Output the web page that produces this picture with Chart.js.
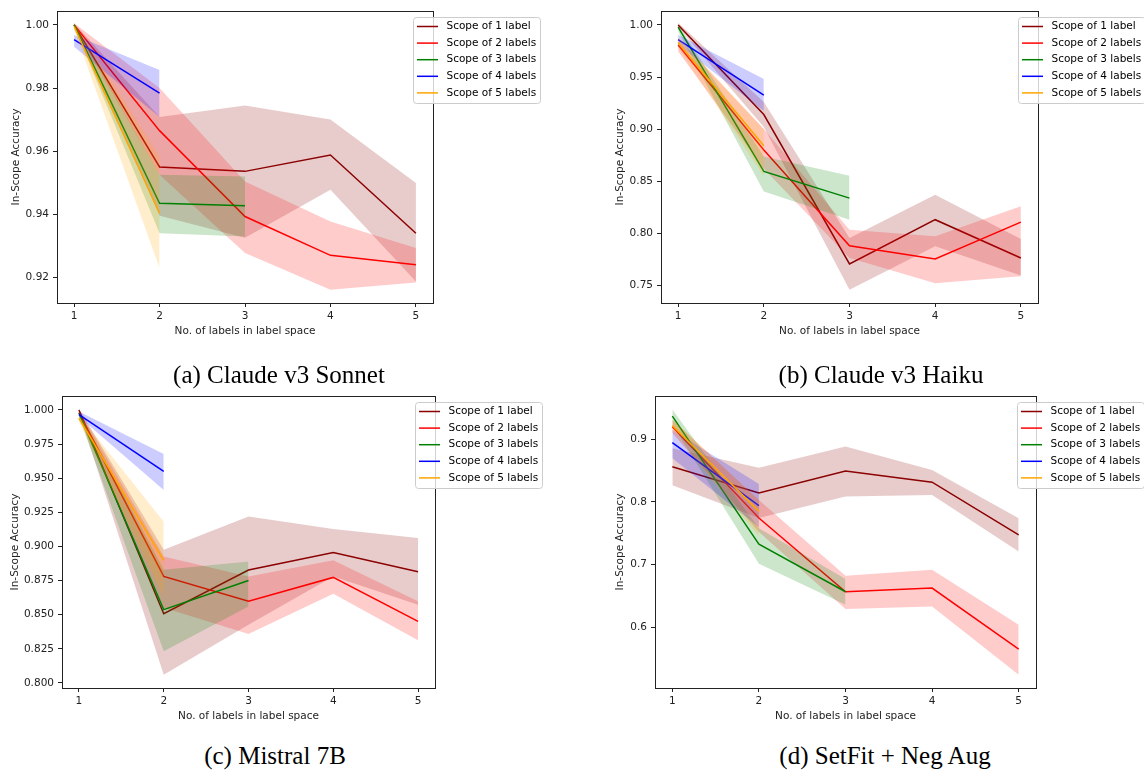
<!DOCTYPE html>
<html>
<head>
<meta charset="utf-8">
<title>In-Scope Accuracy vs label space size</title>
<script src="https://cdn.jsdelivr.net/npm/chart.js@4.4.1/dist/chart.umd.min.js"></script>
<style>
  body { margin: 0; background: #fff; width: 1144px; height: 771px; overflow: hidden; position: relative; }
  canvas { position: absolute; }
  .caption { position: absolute; width: 400px; text-align: center; font-family: "Liberation Serif", "Times New Roman", serif; font-size: 25px; line-height: 25px; color: #000; white-space: nowrap; }
</style>
</head>
<body>
<canvas id="sonnet" width="572" height="345" style="left:0;top:0"></canvas>
<canvas id="haiku" width="572" height="345" style="left:572px;top:0"></canvas>
<canvas id="mistral" width="572" height="345" style="left:0;top:385px"></canvas>
<canvas id="setfit" width="572" height="345" style="left:572px;top:385px"></canvas>
<div class="caption" style="left:79px;top:362px">(a) Claude v3 Sonnet</div>
<div class="caption" style="left:681px;top:362px">(b) Claude v3 Haiku</div>
<div class="caption" style="left:75px;top:743px">(c) Mistral 7B</div>
<div class="caption" style="left:685px;top:743px">(d) SetFit + Neg Aug</div>
<script>
const xValues = [1, 2, 3, 4, 5];
const seriesLabels = ['Scope of 1 label', 'Scope of 2 labels', 'Scope of 3 labels', 'Scope of 4 labels', 'Scope of 5 labels'];

// (a) Claude v3 Sonnet
const sonnetMean = [[1.000, 0.955, 0.9536, 0.9588, 0.934], [1.000, 0.9665, 0.9393, 0.927, 0.924], [1.000, 0.9435, 0.9427], [0.9953, 0.9784], [0.9995, 0.9404]];
const sonnetLow = [[0.9995, 0.9395, 0.9326, 0.9478, 0.9187], [0.9995, 0.9525, 0.9277, 0.9161, 0.9184], [0.9995, 0.934, 0.933], [0.9931, 0.9708], [0.9985, 0.923]];
const sonnetHigh = [[1.0005, 0.9708, 0.9745, 0.970, 0.9499], [1.0005, 0.980, 0.9504, 0.9377, 0.9293], [1.0005, 0.9525, 0.952], [0.9968, 0.9857], [1.0005, 0.9583]];
const sonnetTicks = [0.92, 0.94, 0.96, 0.98, 1.00];

// (b) Claude v3 Haiku
const haikuMean = [[1.000, 0.914, 0.7705, 0.813, 0.7762], [0.9808, 0.880, 0.788, 0.7752, 0.8107], [0.998, 0.8594, 0.8337], [0.986, 0.9326], [0.9832, 0.884]];
const haikuLow = [[0.998, 0.902, 0.7458, 0.7874, 0.7593], [0.9744, 0.862, 0.7762, 0.752, 0.7586], [0.9936, 0.840, 0.813], [0.981, 0.9173], [0.9776, 0.855]];
const haikuHigh = [[1.002, 0.926, 0.7954, 0.837, 0.7944], [0.9872, 0.900, 0.8034, 0.797, 0.8258], [1.000, 0.8737, 0.8552], [0.9905, 0.9482], [0.9888, 0.900]];
const haikuTicks = [0.75, 0.80, 0.85, 0.90, 0.95, 1.00];

// (c) Mistral 7B
const mistralMean = [[1.000, 0.8507, 0.8827, 0.8956, 0.8815], [0.998, 0.878, 0.8598, 0.8773, 0.8451], [0.9976, 0.8537, 0.8751], [0.9965, 0.9549], [0.9939, 0.8898]];
const mistralLow = [[0.998, 0.806, 0.8427, 0.878, 0.8573], [0.995, 0.855, 0.8359, 0.8654, 0.8312], [0.995, 0.8232, 0.856], [0.995, 0.9414], [0.9915, 0.8634]];
const mistralHigh = [[1.001, 0.8976, 0.922, 0.9127, 0.9061], [1.000, 0.8927, 0.878, 0.8898, 0.8598], [0.9995, 0.883, 0.889], [0.9988, 0.9677], [0.9963, 0.918]];
const mistralTicks = [0.800, 0.825, 0.850, 0.875, 0.900, 0.925, 0.950, 0.975, 1.000];

// (d) SetFit + Neg Aug
const setfitMean = [[0.8562, 0.8142, 0.8495, 0.8315, 0.7476], [0.920, 0.7744, 0.6568, 0.6626, 0.5654], [0.937, 0.7327, 0.6568], [0.8946, 0.794], [0.922, 0.785]];
const setfitLow = [[0.8268, 0.7744, 0.8087, 0.8113, 0.721], [0.910, 0.752, 0.6292, 0.6334, 0.5245], [0.9235, 0.7014, 0.636], [0.8698, 0.7595], [0.912, 0.745]];
const setfitHigh = [[0.8855, 0.8544, 0.8883, 0.8511, 0.7741], [0.931, 0.803, 0.6823, 0.6918, 0.6042], [0.9476, 0.7582, 0.677], [0.9148, 0.8286], [0.932, 0.803]];
const setfitTicks = [0.6, 0.7, 0.8, 0.9];

const lineColors = ['#8b0000', '#ff0000', '#008000', '#0000ff', '#ffa500'];
const bandColors = ['rgba(139,0,0,0.2)', 'rgba(255,0,0,0.2)', 'rgba(0,128,0,0.2)', 'rgba(0,0,255,0.2)', 'rgba(255,165,0,0.2)'];
const FONT = 'DejaVu Sans';
Chart.defaults.font.family = FONT;
Chart.defaults.font.size = 10.5;
Chart.defaults.color = '#222';

const panels = [
  { id: 'sonnet', mean: sonnetMean, low: sonnetLow, high: sonnetHigh, ticks: sonnetTicks, dec: 2, yMin: 0.9119, yMax: 1.0044,
    area: { l: 57, t: 11, r: 433, b: 303 }, yTitleX: 16, legend: { x: 413, y: 17 } },
  { id: 'haiku', mean: haikuMean, low: haikuLow, high: haikuHigh, ticks: haikuTicks, dec: 2, yMin: 0.733, yMax: 1.0134,
    area: { l: 89, t: 11, r: 466, b: 303 }, yTitleX: 48, legend: { x: 446, y: 17 } },
  { id: 'mistral', mean: mistralMean, low: mistralLow, high: mistralHigh, ticks: mistralTicks, dec: 3, yMin: 0.7963, yMax: 1.0102,
    area: { l: 62, t: 11, r: 435, b: 303 }, yTitleX: 15, legend: { x: 415, y: 17 } },
  { id: 'setfit', mean: setfitMean, low: setfitLow, high: setfitHigh, ticks: setfitTicks, dec: 1, yMin: 0.5033, yMax: 0.969,
    area: { l: 83, t: 11, r: 464, b: 303 }, yTitleX: 48, legend: { x: 445, y: 17 } }
];

function toPoints(values) {
  return values.map((v, i) => ({ x: xValues[i], y: v }));
}

// box around the plot, like matplotlib spines
const frame = {
  id: 'frame',
  afterDatasetsDraw(chart) {
    const { left, top, right, bottom } = chart.chartArea;
    const ctx = chart.ctx;
    ctx.save();
    ctx.strokeStyle = '#222';
    ctx.lineWidth = 1;
    ctx.strokeRect(Math.round(left) + 0.5, Math.round(top) + 0.5, Math.round(right - left), Math.round(bottom - top));
    ctx.restore();
  }
};

// legend sitting over the right spine
const legendBox = {
  id: 'legendBox',
  afterDraw(chart, args, opts) {
    const ctx = chart.ctx;
    const x = opts.x, y = opts.y;
    ctx.save();
    ctx.fillStyle = 'rgba(255,255,255,0.8)';
    ctx.strokeStyle = '#cccccc';
    ctx.lineWidth = 1;
    ctx.beginPath();
    ctx.roundRect(x + 0.5, y + 0.5, 127, 86, 3);
    ctx.fill();
    ctx.stroke();
    ctx.font = '10.5px "' + FONT + '"';
    ctx.textBaseline = 'middle';
    seriesLabels.forEach((label, i) => {
      const cy = y + 9.5 + i * 16.6;
      ctx.strokeStyle = lineColors[i];
      ctx.lineWidth = 1.5;
      ctx.beginPath();
      ctx.moveTo(x + 4, cy);
      ctx.lineTo(x + 25, cy);
      ctx.stroke();
      ctx.fillStyle = '#000';
      ctx.fillText(label, x + 33.5, cy);
    });
    ctx.restore();
  }
};

function makePanel(p) {
  const canvas = document.getElementById(p.id);
  const datasets = [];
  // series 5 first so that series 1 ends up drawn at the bottom
  for (let s = seriesLabels.length - 1; s >= 0; s--) {
    datasets.push({ label: seriesLabels[s], data: toPoints(p.mean[s]), borderColor: lineColors[s], borderWidth: 1.5, pointRadius: 0, fill: false });
    datasets.push({ label: seriesLabels[s] + ' high', data: toPoints(p.high[s]), borderWidth: 0, pointRadius: 0, backgroundColor: bandColors[s], fill: '+1' });
    datasets.push({ label: seriesLabels[s] + ' low', data: toPoints(p.low[s]), borderWidth: 0, pointRadius: 0, fill: false });
  }

  new Chart(canvas, {
    type: 'line',
    data: { datasets: datasets },
    plugins: [frame, legendBox],
    options: {
      responsive: false,
      animation: false,
      devicePixelRatio: 1,
      layout: { padding: { left: 0, top: p.area.t, right: canvas.width - p.area.r, bottom: 0 } },
      plugins: {
        legend: { display: false },
        tooltip: { enabled: false },
        legendBox: p.legend
      },
      scales: {
        x: {
          type: 'linear',
          min: 0.8,
          max: 5.2,
          afterBuildTicks: (s) => { s.ticks = xValues.map(v => ({ value: v })); },
          afterFit: (s) => { s.height = canvas.height - p.area.b; },
          grid: { drawOnChartArea: false, tickLength: 4, color: '#222' },
          border: { display: false },
          ticks: { padding: 3, callback: (v) => String(v) },
          title: { display: true, text: 'No. of labels in label space', padding: { top: 0, bottom: 7 } }
        },
        y: {
          type: 'linear',
          min: p.yMin,
          max: p.yMax,
          afterBuildTicks: (s) => { s.ticks = p.ticks.map(v => ({ value: v })); },
          afterFit: (s) => { s.width = p.area.l; },
          grid: { drawOnChartArea: false, tickLength: 4, color: '#222' },
          border: { display: false },
          ticks: { padding: 4, callback: (v) => Number(v).toFixed(p.dec) },
          title: { display: true, text: 'In-Scope Accuracy', padding: { top: p.yTitleX - 6.3, bottom: 0 } }
        }
      }
    }
  });
}

panels.forEach(makePanel);
</script>
</body>
</html>
